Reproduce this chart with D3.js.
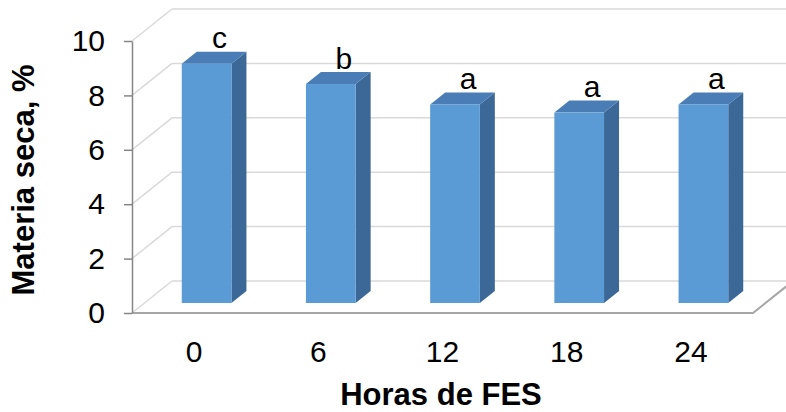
<!DOCTYPE html>
<html>
<head>
<meta charset="utf-8">
<script src="https://cdn.jsdelivr.net/npm/d3@7"></script>
<style>
  html, body { margin: 0; padding: 0; background: #ffffff; }
  svg { display: block; font-family: "Liberation Sans", Arial, sans-serif; }
</style>
</head>
<body>
<svg id="chart" width="786" height="412"></svg>
<script>
// Dry matter (%) over hours of solid-state fermentation
const categories = ["0", "6", "12", "18", "24"];
const materiaSeca = [8.8, 8.05, 7.3, 7.0, 7.3];
const letras = ["c", "b", "a", "a", "a"];
const yTicks = [0, 2, 4, 6, 8, 10];

const W = 786, H = 412;
const svg = d3.select("#chart");

// front plane of the 3D plot box
const x = d3.scaleBand().domain(categories).range([132, 753]).paddingInner(0).paddingOuter(0);
const y = d3.scaleLinear().domain([0, 10]).range([313, 41]);

// oblique depth vector of the box
const DX = 40, DY = -32;
// bars sit in the middle of the depth
const f0 = 0.3125, f1 = 0.6875;
const barW = x.bandwidth() * 0.4;

const gridColor = "#d9d9d9";

// back wall gridlines
svg.append("g").selectAll("line").data(yTicks).join("line")
  .attr("x1", x.range()[0] + DX).attr("x2", W + 10)
  .attr("y1", d => y(d) + DY).attr("y2", d => y(d) + DY)
  .attr("stroke", gridColor).attr("stroke-width", 1.5);

// side wall gridlines
svg.append("g").selectAll("line").data(yTicks).join("line")
  .attr("x1", x.range()[0]).attr("y1", d => y(d))
  .attr("x2", x.range()[0] + DX).attr("y2", d => y(d) + DY)
  .attr("stroke", gridColor).attr("stroke-width", 1.5);

// floor edges
const x0 = x.range()[0], x1 = x.range()[1], yb = y(0);
svg.append("path")
  .attr("d", `M${x0},${yb}L${x1},${yb}L${x1 + DX},${yb + DY}`)
  .attr("fill", "none").attr("stroke", "#a6a6a6").attr("stroke-width", 2);

// bars
const bars = svg.append("g").selectAll("g").data(categories).join("g");
bars.each(function (c, i) {
  const g = d3.select(this);
  const v = materiaSeca[i];
  const cx = x(c) + x.bandwidth() / 2 + f0 * DX;
  const xl = cx - barW / 2, xr = cx + barW / 2;
  const yt = y(v) + f0 * DY, ybt = y(0) + f0 * DY;
  const ddx = (f1 - f0) * DX, ddy = (f1 - f0) * DY;
  // right side
  g.append("path")
    .attr("d", `M${xr},${yt}L${xr + ddx},${yt + ddy}L${xr + ddx},${ybt + ddy}L${xr},${ybt}Z`)
    .attr("fill", "#3b6896");
  // top
  g.append("path")
    .attr("d", `M${xl},${yt}L${xl + ddx},${yt + ddy}L${xr + ddx},${yt + ddy}L${xr},${yt}Z`)
    .attr("fill", "#4a7db5");
  // front
  g.append("rect")
    .attr("x", xl).attr("y", yt).attr("width", barW).attr("height", ybt - yt)
    .attr("fill", "#5b9bd5");
  // significance letter, centred over the top face
  g.append("text")
    .attr("x", cx + 13).attr("y", yt - 15.5)
    .attr("text-anchor", "middle").attr("font-size", 30).attr("fill", "#000")
    .text(letras[i]);
});

// y axis
const yAxis = svg.append("g").attr("transform", `translate(${x0},0)`)
  .call(d3.axisLeft(y).tickValues(yTicks).tickSize(8).tickSizeOuter(0).tickPadding(19));
yAxis.select(".domain").attr("stroke", "#868686").attr("stroke-width", 1.5);
yAxis.selectAll(".tick line").attr("stroke", "#868686").attr("stroke-width", 1.5);
yAxis.selectAll(".tick text").attr("font-size", 30).attr("fill", "#000")
  .attr("font-family", "Liberation Sans, Arial, sans-serif");

// x axis (category labels)
const xAxis = svg.append("g").attr("transform", `translate(0,${yb})`)
  .call(d3.axisBottom(x).tickSize(0).tickPadding(28));
xAxis.select(".domain").remove();
xAxis.selectAll(".tick text").attr("font-size", 30).attr("fill", "#000")
  .attr("font-family", "Liberation Sans, Arial, sans-serif");

// axis titles
svg.append("text")
  .attr("x", 441).attr("y", 405).attr("text-anchor", "middle")
  .attr("font-size", 31).attr("font-weight", "bold").text("Horas de FES");
svg.append("text")
  .attr("transform", "translate(34,180) rotate(-90)").attr("text-anchor", "middle")
  .attr("font-size", 31).attr("font-weight", "bold").text("Materia seca, %");
</script>
</body>
</html>
